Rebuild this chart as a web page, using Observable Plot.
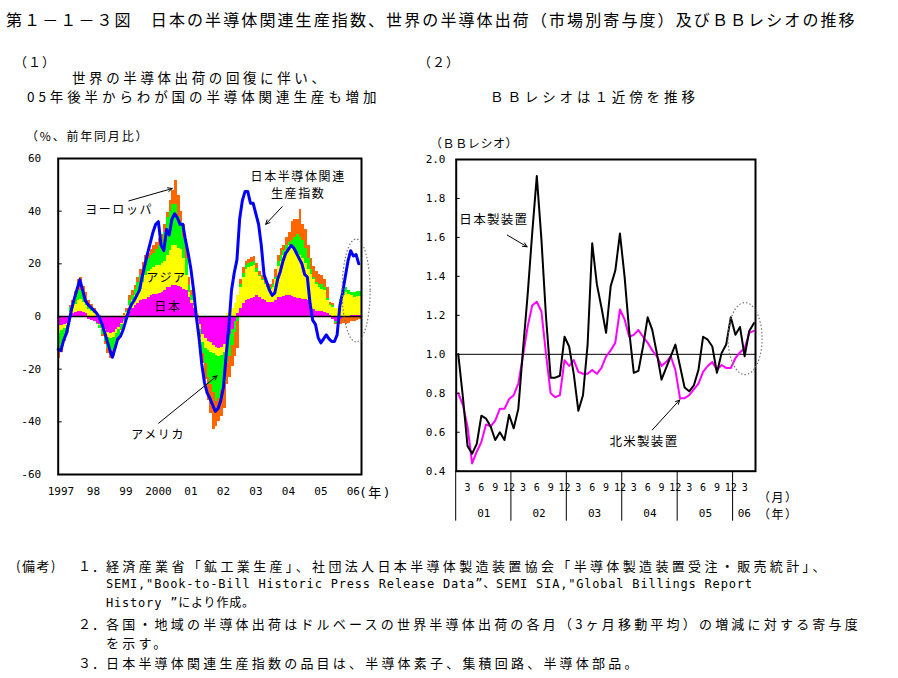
<!DOCTYPE html>
<html lang="ja">
<head>
<meta charset="utf-8">
<script src="https://cdn.jsdelivr.net/npm/d3@7"></script>
<script src="https://cdn.jsdelivr.net/npm/@observablehq/plot@0.6"></script>
<style>
  html,body{margin:0;padding:0;background:#fff;}
  #root{position:relative;width:898px;height:678px;overflow:hidden;background:#fff;color:#000;
        font-family:"Noto Sans CJK JP","Noto Sans",sans-serif;}
  .t{position:absolute;white-space:nowrap;line-height:1;}
  .chart{position:absolute;}
</style>
</head>
<body>
<div id="root"></div>
<script>
// ================= DATA: panel (1) =================
// monthly, Jan 1997 .. Apr 2006 (contribution to world shipments, %pt)
const japanContrib = [
  -3.5,-3.5,-3,-2.5,0.5,1,1.5,2,2,1.5,1,-1,
  -1.5,-2,-2.5,-3,-4,-5,-6,-6.5,-6,-5,-4,-2.5,
  -1,0.5,2,3,4,5,6,6.3,6.6,7.2,7.8,8.2,
  8.5,8.8,9,10,11,11,11.6,11.6,11.5,11,10.4,10,
  7.2,5,3,0.5,-3,-7,-8.5,-9.5,-10,-11,-11.8,-12,
  -11.8,-10.5,-9,-7,-5,-2,1,3,5,6,6.5,7,
  7.2,7.8,7.2,6.6,6,5.5,5.3,5.3,6,7.2,7.2,7.5,
  7.8,7.8,7.5,7.2,7,7,6.6,6.3,6,3,2.5,2,
  2,2,1.5,1,0.5,-1,-2,-2,-1,-0.5,-0.5,-0.3,
  0.3,0.3,0.5,0.5
];
const asiaContrib = [
  -3,-2,-1.5,-1,1,2,3,4,4.5,4,3,2.5,
  2,1,0.5,-0.5,-1,-1.5,-2,-2,-2,-1.5,-1,-0.5,
  0.5,1,2,3,4,4,4.4,6.7,8.8,9.8,10.2,10.4,
  10.7,10.7,11,11,12,14,15.4,15.4,14.5,14.5,11.6,5.4,
  1.8,1,1,0.5,-2,-3,-3.5,-3.5,-3.5,-3,-3,-3,
  -3,-3,1,2,3,5,7,8,10,12,12,12,
  12,9,8,7,6,5.5,5.1,5.7,8,11.8,13.8,15.5,
  17.2,19,18.5,17.8,17,16,15.4,13.7,12,13,11.5,10,
  9,8.4,8.5,5,3.5,3.5,3,3,6,8,9,8.5,
  7.5,7,7,7
];
const americaContrib = [
  -6,-6,-4,-2.5,2,2,3,4,3.5,3,2.5,1.5,
  1,0.5,-0.5,-1,-2,-3,-4,-5,-5,-4,-3,-2,
  -1,0.5,2,2,2.4,4,5,5,5.1,5,5,5.4,
  6.4,7.5,8,11,14.5,15,15.5,15.5,12,10.2,8,6.6,
  2.6,2,0.5,-1,-2,-4,-6,-10,-12.5,-15,-17.3,-16,
  -13.3,-11.5,-9,-8,-6,-4,-2,1,1.5,1.5,1.5,1.5,
  1.5,1.3,0.5,0.5,0.5,0.5,0.6,1,1,2,2,2,
  2,1.2,3,5,7,7,7,6,4,2,1,1,
  1,1.6,1,1,0.5,0.5,-0.5,-1,0.5,2,2,1.5,
  1.5,2,2,2
];
const europeContrib = [
  -3.5,-2,-1,-0.5,0.5,1,2,4,5,3,2.5,2,
  1.5,1.5,0.5,0.3,-0.5,-1,-2,-2.5,-2,-1.5,-1,-0.5,
  0.5,1,2,2,1.2,2,2.6,2.5,2.5,2,2.5,3,
  2.4,2.5,3,3,2,4,5.5,9,8,4.3,5,5,
  3.4,2,0.5,-1,-1,-4,-6,-9,-11,-14,-9.5,-9,
  -10,-10,-8,-8,-8,-9,-10,2,2,1.5,1.5,2,
  2,2,1.5,1.4,1.5,1,1.3,2,3,2,3,2,
  3,4,7,7,6,10.7,6,7,5,4,4,4,
  4,3.4,3,4,0.8,1,-0.5,-1,-2,-2,-2.5,-2.5,
  -2,-2,-1.5,-1
];
// Japan semiconductor-related production index, % y/y
const prodIndex = [
  -12.5,-13,-9,-6.5,-2,3,7,10.5,14,10,6,4.5,
  3.5,2.5,1.5,0,-2.5,-5.5,-9,-12.5,-15.5,-12,-8.5,-7.5,
  -5,-1.5,2,4.5,6,8,10,15,19.5,24,28,32,
  35,36,27,25,33,31,37,39,37.5,35,35,29,
  24,18,10,0,-8,-18,-25,-29,-31,-33.5,-36,-35,
  -32,-27,-15,-4,10,16.5,21.5,37,44,47.5,47.5,43,
  43,39,35,27,16,13,10,8,9,14,17,21,
  24,25.5,27,26,24,22,20,16,15,5,-1.5,-3,
  -8,-10,-8.5,-7,-8.5,-9.5,-9.5,-7,4,9,15,21,
  25,23,23.5,20
];
const seriesNames = ["日本", "アジア", "アメリカ", "ヨーロッパ"];
const seriesColors = ["#ff00ff", "#ffff00", "#00ff00", "#ff6600"];
const yearLabelsLeft = ["1997", "98", "99", "2000", "01", "02", "03", "04", "05", "06"];
const yTicksLeft = [60, 40, 20, 0, -20, -40, -60];
const annotLeft = [
  {t: "ヨーロッパ", x: 22.5, y: 40.3},
  {t: "アジア", x: 40, y: 14.5},
  {t: "日本", x: 40.5, y: 3.7},
  {t: "アメリカ", x: 36.9, y: -45},
  {t: "日本半導体関連", x: 88.6, y: 52.8},
  {t: "生産指数", x: 88.6, y: 46.6}
];
const arrowsLeft = [
  {x1: 26.1, y1: 43.9, x2: 42.1, y2: 48.6},
  {x1: 37.1, y1: -40.5, x2: 58.7, y2: -22.5},
  {x1: 82.7, y1: 41.7, x2: 76.6, y2: 35.0}
];
const ellipseLeft = {x: 110.2, y: 9.7};

// ================= DATA: panel (2) =================
// monthly BB ratio, Jan 2001 .. May 2006
const bbJapan = [
  1.00,0.78,0.53,0.49,0.54,0.685,0.67,0.63,0.56,0.60,0.56,0.69,
  0.62,0.72,1.02,1.30,1.62,1.915,1.59,1.19,0.88,0.88,0.89,1.09,
  1.04,0.90,0.71,0.79,1.05,1.57,1.36,1.24,1.11,1.35,1.43,1.62,
  1.40,1.12,0.905,0.915,1.04,1.19,1.125,1.005,0.87,0.93,0.99,1.05,
  0.94,0.83,0.81,0.84,0.92,1.09,1.075,1.04,0.905,1.005,1.05,1.19,
  1.10,1.14,0.99,1.12,1.16
];
const bbNorthAmerica = [
  0.80,0.74,0.63,0.44,0.50,0.55,0.64,0.63,0.66,0.72,0.72,0.77,
  0.79,0.85,0.99,1.14,1.25,1.27,1.22,1.00,0.80,0.78,0.79,0.97,
  0.94,0.97,0.91,0.90,0.90,0.92,0.90,0.93,0.99,1.02,1.06,1.23,
  1.18,1.09,1.10,1.125,1.09,1.06,1.02,0.99,0.94,0.96,0.99,0.92,
  0.775,0.775,0.79,0.82,0.85,0.91,0.94,0.96,0.92,0.945,0.93,0.93,
  0.98,1.01,1.03,1.11,1.12
];
const monthTickLabels = ["3", "6", "9", "12"];
const yearLabelsRight = ["01", "02", "03", "04", "05", "06"];
const yTicksRight = [2.0, 1.8, 1.6, 1.4, 1.2, 1.0, 0.8, 0.6, 0.4];
const annotRight = [
  {t: "日本製装置", x: 7.7, y: 1.69},
  {t: "北米製装置", x: 40.2, y: 0.548}
];
const arrowsRight = [
  {x1: 10.6, y1: 1.612, x2: 14.9, y2: 1.552},
  {x1: 42.0, y1: 0.612, x2: 47.95, y2: 0.766}
];
const ellipseRight = {x: 62.2, y: 1.078};

// ================= helpers =================
const CJK = "'Noto Sans CJK JP', sans-serif";
const MONO = "'DejaVu Sans Mono', 'Noto Sans CJK JP', monospace";
const root = document.getElementById("root");
function label(text, x, cy, size, spacing, font) {
  const el = document.createElement("div");
  el.className = "t";
  el.textContent = text;
  el.style.left = x + "px";
  el.style.top = (cy - size / 2) + "px";
  el.style.fontSize = size + "px";
  el.style.letterSpacing = spacing + "px";
  if (font) el.style.fontFamily = font;
  root.appendChild(el);
  return el;
}
function place(svg, left, top) {
  const d = document.createElement("div");
  d.className = "chart";
  d.style.left = left + "px";
  d.style.top = top + "px";
  d.appendChild(svg);
  root.appendChild(d);
}

// ================= panel (1) =================
const contribs = [japanContrib, asiaContrib, americaContrib, europeContrib];
const barRows = [];
japanContrib.forEach((_, i) => {
  contribs.forEach((arr, s) => barRows.push({i, i2: i + 1, v: arr[i], s: seriesNames[s]}));
});
const xTicksLeft = yearLabelsLeft.map((_, n) => 12 * n + 1);
const xLabelMap = new Map(xTicksLeft.map((t, n) => [t, yearLabelsLeft[n]]));
const L = {w: 400, h: 390, ml: 57.7, mr: 39, mt: 38, mb: 36};
const fwL = L.w - L.ml - L.mr;

const leftPlot = Plot.plot({
  width: L.w, height: L.h,
  marginLeft: L.ml, marginRight: L.mr, marginTop: L.mt, marginBottom: L.mb,
  x: {domain: [0, japanContrib.length]},
  y: {domain: [-60, 60]},
  color: {domain: seriesNames, range: seriesColors},
  style: {background: "transparent", fontFamily: MONO, fontSize: "11px", overflow: "visible"},
  marks: [
    Plot.rect(barRows, Plot.stackY({x: "i", x1: "i", x2: "i2", y: "v", fill: "s", shapeRendering: "crispEdges"})),
    Plot.ruleY([0], {stroke: "#000", strokeWidth: 1.5}),
    Plot.line(prodIndex, {x: (d, i) => i, y: d => d, stroke: "#0000ff", strokeWidth: 3, strokeLinejoin: "round"}),
    Plot.tickY(yTicksLeft, {y: d => d, insetRight: fwL - 4, stroke: "#000"}),
    Plot.axisY(yTicksLeft, {tickSize: 0, tickPadding: 17, tickFormat: d => String(d), fontSize: 11}),
    Plot.axisX(xTicksLeft, {tickSize: 0, tickPadding: 13, tickFormat: d => xLabelMap.get(d), fontSize: 11}),
    Plot.frame({stroke: "#000", strokeWidth: 2}),
    Plot.arrow(arrowsLeft, {x1: "x1", y1: "y1", x2: "x2", y2: "y2", stroke: "#000", strokeWidth: 1, headLength: 7, headAngle: 50}),
    Plot.text(annotLeft, {x: "x", y: "y", text: "t", fontFamily: CJK, fontSize: 12})
  ]
});
{
  const sx = leftPlot.scale("x"), sy = leftPlot.scale("y");
  d3.select(leftPlot).append("ellipse")
    .attr("cx", sx.apply(ellipseLeft.x)).attr("cy", sy.apply(ellipseLeft.y))
    .attr("rx", 14).attr("ry", 51.5)
    .attr("fill", "none").attr("stroke", "#777").attr("stroke-width", 1.2).attr("stroke-dasharray", "1.5,2");
  d3.select(leftPlot).selectAll('g[aria-label="text"] text').attr("letter-spacing", "1.6");
}
place(leftPlot, 0, 120);

// ================= panel (2) =================
const monthTicks = [];
const monthLabelMap = new Map();
yearLabelsRight.forEach((_, y) => {
  monthTickLabels.forEach((m) => {
    const k = 12 * y + (+m) - 1;
    if (k < bbJapan.length) { monthTicks.push(k); monthLabelMap.set(k, m); }
  });
});
const R = {w: 400, h: 410, ml: 55.7, mr: 45, mt: 39, mb: 59.3};
const fwR = R.w - R.ml - R.mr;
const xDomR = [-0.45, 64.35];
const yearCenters = yearLabelsRight.map((_, y) => {
  const a = Math.max(xDomR[0], 12 * y - 0.5), b = Math.min(xDomR[1], 12 * y + 11.5);
  return (a + b) / 2;
});
const yearLabelMap = new Map(yearCenters.map((c, y) => [c, yearLabelsRight[y]]));

const rightPlot = Plot.plot({
  width: R.w, height: R.h,
  marginLeft: R.ml, marginRight: R.mr, marginTop: R.mt, marginBottom: R.mb,
  x: {domain: xDomR},
  y: {domain: [0.4, 2.0]},
  style: {background: "transparent", fontFamily: MONO, fontSize: "11px", overflow: "visible"},
  marks: [
    Plot.ruleY([1], {stroke: "#000", strokeWidth: 1}),
    Plot.line(bbNorthAmerica, {x: (d, i) => i, y: d => d, stroke: "#ff00ff", strokeWidth: 2}),
    Plot.line(bbJapan, {x: (d, i) => i, y: d => d, stroke: "#000", strokeWidth: 2}),
    Plot.tickY(yTicksRight, {y: d => d, insetRight: fwR - 4, stroke: "#000"}),
    Plot.axisY(yTicksRight, {tickSize: 0, tickPadding: 10.7, tickFormat: d => d.toFixed(1), fontSize: 11}),
    Plot.axisX(monthTicks, {tickSize: 0, tickPadding: 13, tickFormat: d => monthLabelMap.get(d), fontSize: 10}),
    Plot.axisX(yearCenters, {tickSize: 0, tickPadding: 38, tickFormat: d => yearLabelMap.get(d), fontSize: 11}),
    Plot.frame({stroke: "#000", strokeWidth: 2}),
    Plot.arrow(arrowsRight, {x1: "x1", y1: "y1", x2: "x2", y2: "y2", stroke: "#000", strokeWidth: 1, headLength: 7, headAngle: 50}),
    Plot.text(annotRight, {x: "x", y: "y", text: "t", fontFamily: CJK, fontSize: 12.5})
  ]
});
{
  const sx = rightPlot.scale("x"), sy = rightPlot.scale("y");
  const g = d3.select(rightPlot);
  const y0 = sy.apply(0.4);
  yearLabelsRight.forEach((_, y) => {
    const b = Math.max(xDomR[0], 12 * y - 0.5);
    g.append("line").attr("x1", sx.apply(b)).attr("x2", sx.apply(b))
      .attr("y1", y0).attr("y2", y0 + 50).attr("stroke", "#000").attr("stroke-width", 1);
  });
  g.append("ellipse")
    .attr("cx", sx.apply(ellipseRight.x)).attr("cy", sy.apply(ellipseRight.y))
    .attr("rx", 17).attr("ry", 36)
    .attr("fill", "none").attr("stroke", "#777").attr("stroke-width", 1.2).attr("stroke-dasharray", "1.5,2");
  g.selectAll('g[aria-label="text"] text').attr("letter-spacing", "1.3");
}
place(rightPlot, 400, 120);

// ================= texts =================
label("第１－１－３図　日本の半導体関連生産指数、世界の半導体出荷（市場別寄与度）及びＢＢレシオの推移", 6, 19, 16, 2.1, CJK);
label("（１）", 14, 61.5, 13, 1, CJK);
label("世界の半導体出荷の回復に伴い、", 72, 78, 13.5, 3.6, CJK);
label("05年後半からわが国の半導体関連生産も増加", 27, 97, 13.5, 3.9, CJK);
label("（２）", 418, 61.5, 13, 1, CJK);
label("ＢＢレシオは１近傍を推移", 490, 97, 13.5, 3.9, CJK);
label("（%、前年同月比）", 26, 136, 12, 1.8, CJK);
label("(年)", 359, 492, 13, 1.5, MONO);
label("（ＢＢレシオ）", 430, 143, 12, 0.6, CJK);
label("（月）", 758, 496.5, 12, 1.5, CJK);
label("（年）", 758, 514, 12, 1.5, CJK);

const noteY = [565, 584, 603, 623, 642, 662];
label("(備考)", 16, noteY[0], 13, 1.5, CJK);
label("１．", 78, noteY[0], 13, 1, CJK);
label("経済産業省「鉱工業生産」、社団法人日本半導体製造装置協会「半導体製造装置受注・販売統計」、", 106, noteY[0], 13, 3.35, CJK);
label("SEMI,\"Book-to-Bill Historic Press Release Data”、SEMI SIA,\"Global Billings Report", 106, noteY[1], 12, 0.8, MONO);
label("History ”により作成。", 106, noteY[2], 12, 0.8, MONO);
label("２．", 78, noteY[3], 13, 1, CJK);
label("各国・地域の半導体出荷はドルベースの世界半導体出荷の各月（3ヶ月移動平均）の増減に対する寄与度", 106, noteY[3], 13, 3.2, CJK);
label("を示す。", 106, noteY[4], 13, 3.2, CJK);
label("３．", 78, noteY[5], 13, 1, CJK);
label("日本半導体関連生産指数の品目は、半導体素子、集積回路、半導体部品。", 106, noteY[5], 13, 3.2, CJK);
</script>
</body>
</html>
